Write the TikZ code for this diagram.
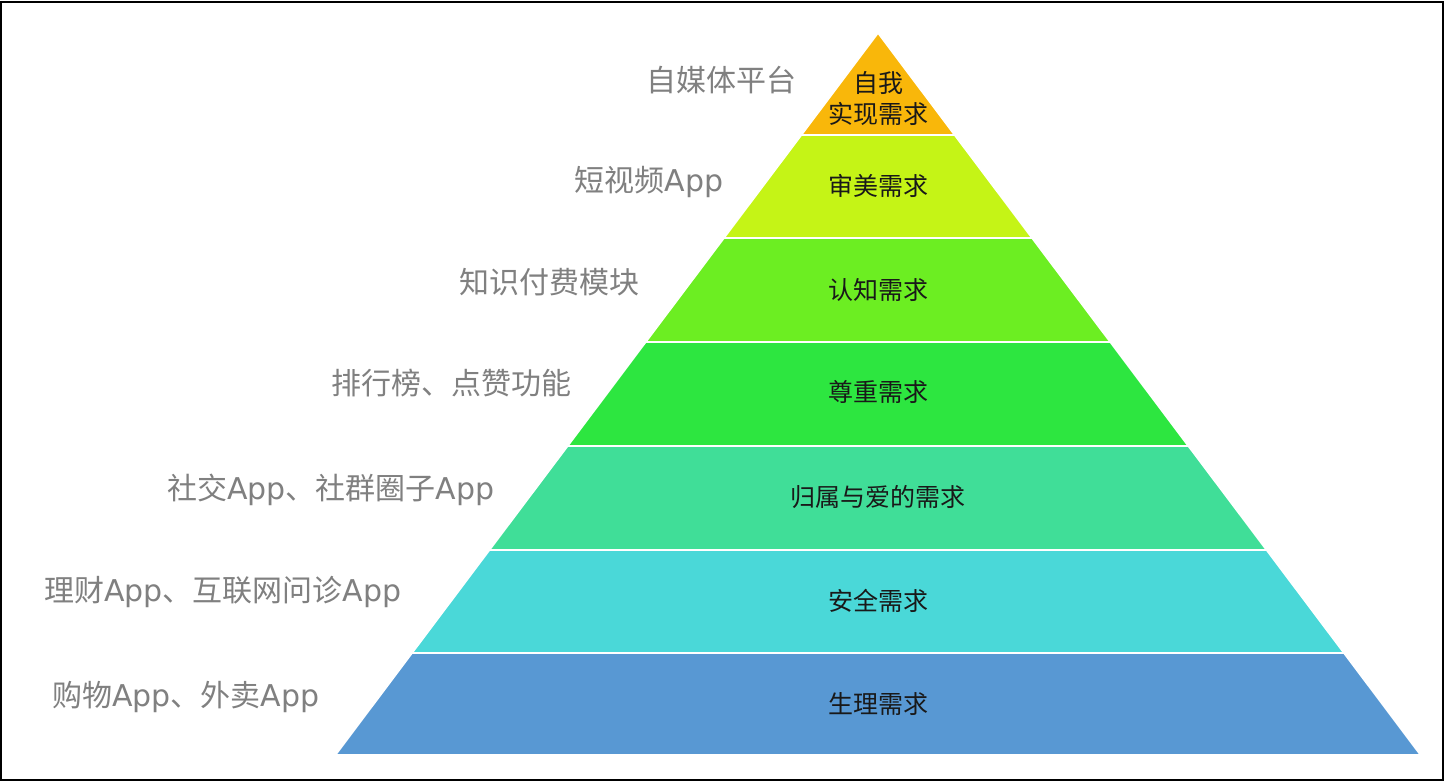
\documentclass[tikz,border=0pt]{standalone}
\usepackage{fontspec}
\newfontfamily\cjk{Noto Sans CJK SC}
\newfontfamily\latn{DejaVu Sans}
\newcommand{\appname}{{\latn App}}

\begin{document}
\begin{tikzpicture}[x=0.5pt,y=-0.5pt,
                layer/.style={draw=white,line width=0.8pt,line join=miter},
                need label/.style={font=\cjk\fontsize{12.5}{15.5}\selectfont,text=black!90,align=center,inner sep=0pt},
                side label/.style={font=\cjk\fontsize{15}{18}\selectfont,text=black!50,anchor=east,inner sep=0pt}]
                \useasboundingbox (0,0) rectangle (1446,783);
                \fill[white] (0,0) rectangle (1446,783);
                \draw[line width=1pt] (1,1.5) rectangle (1443,780);

                % pyramid, top to bottom
                \filldraw[layer,fill={rgb,255:red,249;green,183;blue,10}] (878,33) -- (954.6,135) -- (801.4,135) -- cycle;
                \filldraw[layer,fill={rgb,255:red,197;green,244;blue,22}] (801.4,135) -- (954.6,135) -- (1032,238) -- (724,238) -- cycle;
                \filldraw[layer,fill={rgb,255:red,108;green,238;blue,34}] (724,238) -- (1032,238) -- (1110.2,342) -- (645.8,342) -- cycle;
                \filldraw[layer,fill={rgb,255:red,45;green,230;blue,64}] (645.8,342) -- (1110.2,342) -- (1188.3,446) -- (567.7,446) -- cycle;
                \filldraw[layer,fill={rgb,255:red,64;green,222;blue,152}] (567.7,446) -- (1188.3,446) -- (1266.5,550) -- (489.5,550) -- cycle;
                \filldraw[layer,fill={rgb,255:red,74;green,216;blue,216}] (489.5,550) -- (1266.5,550) -- (1343.9,653) -- (412.1,653) -- cycle;
                \filldraw[layer,fill={rgb,255:red,88;green,152;blue,211}] (412.1,653) -- (1343.9,653) -- (1420.5,755) -- (335.5,755) -- cycle;

                \node[need label] (n7) at (878,99) {自我\\实现需求};
                \node[need label] (n6) at (878,186) {审美需求};
                \node[need label] (n5) at (878,290) {认知需求};
                \node[need label] (n4) at (878,392) {尊重需求};
                \node[need label] (n3) at (878,497) {归属与爱的需求};
                \node[need label] (n2) at (878,601) {安全需求};
                \node[need label] (n1) at (878,704) {生理需求};

                \node[side label] (s7) at (797,80) {自媒体平台};
                \node[side label] (s6) at (724,182) {短视频\appname};
                \node[side label] (s5) at (640,282) {知识付费模块};
                \node[side label] (s4) at (572,383) {排行榜、点赞功能};
                \node[side label] (s3) at (495,490) {社交\appname、社群圈子\appname};
                \node[side label] (s2) at (402,592) {理财\appname、互联网问诊\appname};
                \node[side label] (s1) at (320,697) {购物\appname、外卖\appname};
\end{tikzpicture}
\end{document}
